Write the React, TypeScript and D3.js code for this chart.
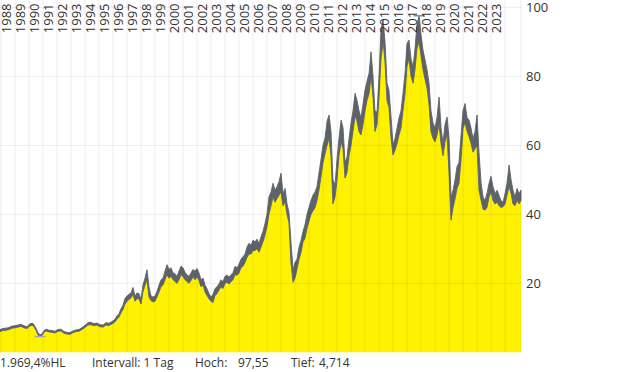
import React from "react";
import * as d3 from "d3";

// decimal years of samples
const years = [
  1987.93, 1988.14, 1988.36, 1988.57, 1988.79, 1989.0, 1989.21, 1989.43, 1989.64, 1989.86,
  1990.07, 1990.29, 1990.5, 1990.64, 1990.79, 1990.93, 1991.07, 1991.21, 1991.43, 1991.64,
  1991.86, 1992.07, 1992.29, 1992.5, 1992.71, 1992.93, 1993.14, 1993.36, 1993.57, 1993.79,
  1994.0, 1994.21, 1994.43, 1994.64, 1994.86, 1995.07, 1995.29, 1995.5, 1995.71, 1995.93,
  1996.14, 1996.29, 1996.43, 1996.57, 1996.71, 1996.86, 1997.0, 1997.14, 1997.29, 1997.43,
  1997.57, 1997.71, 1997.86, 1998.0, 1998.14, 1998.29, 1998.43, 1998.57, 1998.71, 1998.86,
  1999.0, 1999.14, 1999.29, 1999.43, 1999.57, 1999.71, 1999.86, 2000.0, 2000.14, 2000.29,
  2000.43, 2000.57, 2000.71, 2000.86, 2001.0, 2001.14, 2001.29, 2001.43, 2001.57, 2001.71,
  2001.86, 2002.0, 2002.14, 2002.29, 2002.43, 2002.57, 2002.71, 2002.86, 2003.0, 2003.14,
  2003.29, 2003.43, 2003.57, 2003.71, 2003.86, 2004.0, 2004.14, 2004.29, 2004.43, 2004.57,
  2004.71, 2004.86, 2005.0, 2005.14, 2005.29, 2005.43, 2005.57, 2005.71, 2005.86, 2006.0,
  2006.14, 2006.29, 2006.43, 2006.57, 2006.71, 2006.86, 2007.0, 2007.14, 2007.29, 2007.43,
  2007.57, 2007.71, 2007.86, 2008.0, 2008.14, 2008.29, 2008.43, 2008.57, 2008.71, 2008.86,
  2009.0, 2009.14, 2009.29, 2009.43, 2009.57, 2009.71, 2009.86, 2010.0, 2010.14, 2010.29,
  2010.43, 2010.57, 2010.71, 2010.86, 2011.0, 2011.14, 2011.29, 2011.43, 2011.57, 2011.71,
  2011.86, 2012.0, 2012.14, 2012.29, 2012.43, 2012.57, 2012.71, 2012.86, 2013.0, 2013.14,
  2013.29, 2013.43, 2013.57, 2013.71, 2013.86, 2014.0, 2014.14, 2014.29, 2014.43, 2014.57,
  2014.71, 2014.86, 2015.0, 2015.14, 2015.29, 2015.43, 2015.57, 2015.71, 2015.86, 2016.0,
  2016.14, 2016.29, 2016.43, 2016.57, 2016.71, 2016.86, 2017.0, 2017.14, 2017.29, 2017.43,
  2017.57, 2017.71, 2017.86, 2018.0, 2018.14, 2018.29, 2018.43, 2018.57, 2018.71, 2018.86,
  2019.0, 2019.14, 2019.29, 2019.43, 2019.57, 2019.71, 2019.86, 2020.0, 2020.14, 2020.29,
  2020.43, 2020.57, 2020.71, 2020.86, 2021.0, 2021.14, 2021.29, 2021.43, 2021.57, 2021.71,
  2021.86, 2022.0, 2022.14, 2022.29, 2022.43, 2022.57, 2022.71, 2022.86, 2023.0, 2023.14,
  2023.29, 2023.43, 2023.57, 2023.71, 2023.86, 2024.0, 2024.14, 2024.29, 2024.43, 2024.57,
  2024.71, 2024.86, 2025.0, 2025.14,
];

const highs = [
  6.6, 6.9, 7.0, 7.2, 7.6, 7.7, 7.9, 8.1, 7.7, 7.4,
  8.3, 8.4, 7.0, 5.6, 5.1, 5.3, 6.3, 6.7, 6.4, 6.3,
  6.1, 6.6, 6.7, 6.0, 5.8, 5.7, 6.2, 6.5, 6.6, 7.2,
  7.8, 8.6, 8.7, 8.3, 8.5, 8.0, 7.9, 8.6, 8.4, 8.9,
  9.6, 10.6, 11.2, 12.6, 13.6, 15.6, 16.3, 16.8, 17.2, 18.8,
  16.3, 17.2, 17.0, 15.3, 19.5, 21.5, 23.9, 19.0, 16.4, 16.0,
  16.3, 17.6, 19.5, 21.0, 21.5, 23.5, 25.4, 24.0, 24.5, 23.0,
  22.8, 22.0, 23.5, 25.0, 24.5, 23.2, 22.4, 22.0, 23.0, 24.0,
  23.5, 24.3, 23.0, 21.0, 21.5, 19.5, 18.5, 17.0, 16.0, 16.8,
  18.5, 19.0, 19.8, 21.0, 20.5, 22.0, 22.4, 21.8, 22.5, 23.0,
  24.9, 24.5, 25.5, 27.0, 27.7, 28.5, 30.5, 31.6, 31.0, 32.5,
  32.0, 32.8, 31.5, 33.5, 35.0, 37.4, 40.0, 45.1, 46.5, 49.0,
  47.0, 48.0, 49.5, 51.9, 46.0, 47.5, 43.0, 40.5, 32.0, 24.0,
  26.0, 27.0, 30.5, 32.5, 35.0, 37.0, 40.0, 42.0, 44.0, 45.6,
  46.5, 48.0, 52.0, 56.0, 60.0, 62.0, 67.0, 68.8, 64.0, 50.0,
  48.5, 56.0, 62.0, 67.3, 65.0, 55.0, 56.5, 62.0, 66.4, 70.0,
  75.1, 73.0, 70.0, 68.0, 72.0, 76.0, 78.5, 80.9, 87.1, 80.0,
  70.0, 69.6, 80.0, 93.4, 96.3, 90.0, 78.0, 76.0, 68.0, 60.0,
  62.0, 65.0, 68.0, 70.0, 75.0, 81.0, 89.5, 90.5, 85.0, 82.7,
  88.0, 95.0, 97.55, 92.0, 87.6, 84.7, 81.8, 78.0, 70.0, 66.4,
  65.0, 68.0, 74.0, 65.0, 60.6, 66.0, 68.2, 62.0, 45.0, 47.0,
  50.0, 53.8, 55.0, 63.0, 70.0, 72.1, 68.0, 67.3, 65.0, 62.0,
  64.0, 68.8, 58.0, 49.0, 45.0, 44.0, 46.0, 49.0, 51.0, 48.0,
  46.0, 47.0, 45.5, 44.0, 43.5, 46.0, 49.0, 54.3, 50.0, 47.0,
  45.0, 47.5, 46.0, 47.0,
];

const lows = [
  6.0, 6.3, 6.4, 6.6, 7.0, 7.1, 7.3, 7.5, 7.1, 6.9,
  7.7, 7.8, 6.4, 5.0, 4.714, 4.9, 5.8, 6.2, 5.9, 5.8,
  5.6, 6.1, 6.2, 5.5, 5.3, 5.2, 5.7, 6.0, 6.1, 6.6,
  7.2, 7.9, 8.0, 7.7, 7.9, 7.4, 7.3, 7.9, 7.8, 8.2,
  8.8, 9.6, 10.2, 11.4, 12.4, 14.0, 14.8, 15.3, 15.8, 16.8,
  14.8, 15.5, 15.5, 14.0, 17.5, 19.5, 21.0, 16.0, 15.0, 14.6,
  14.8, 16.0, 17.5, 19.0, 19.5, 21.0, 22.5, 21.5, 22.0, 21.0,
  20.5, 20.0, 21.0, 22.5, 22.0, 21.0, 20.5, 20.0, 20.8, 21.8,
  21.0, 22.0, 20.8, 19.0, 19.5, 17.5, 16.5, 15.5, 14.8, 14.4,
  16.5, 17.0, 18.0, 19.0, 18.5, 20.0, 20.3, 19.8, 20.5, 21.0,
  22.5, 22.3, 23.0, 24.5, 25.0, 26.0, 27.5, 28.5, 28.5, 29.5,
  29.5, 30.0, 29.0, 30.5, 32.0, 34.0, 36.5, 40.0, 42.5, 45.0,
  43.5, 44.5, 45.5, 46.5, 42.5, 43.5, 40.0, 37.5, 26.0, 20.3,
  21.5, 24.0, 27.0, 29.0, 32.0, 33.0, 36.0, 38.0, 40.0, 41.0,
  42.0, 44.0, 47.0, 51.0, 55.0, 57.5, 60.0, 62.0, 57.0, 43.0,
  45.0, 50.0, 57.0, 61.0, 59.0, 50.5, 52.0, 57.0, 60.0, 64.0,
  68.5, 67.0, 64.0, 63.0, 66.0, 70.0, 73.0, 75.0, 80.0, 74.0,
  64.0, 66.0, 74.0, 85.0, 90.0, 84.0, 73.0, 71.0, 62.0, 57.2,
  58.5, 60.5, 63.0, 65.0, 70.0, 75.0, 83.0, 85.0, 80.0, 78.0,
  82.0, 88.0, 90.0, 86.0, 82.0, 79.0, 76.5, 72.0, 64.0, 62.0,
  61.0, 63.0, 66.0, 60.5, 57.0, 61.0, 63.0, 52.0, 38.3, 42.0,
  44.5, 47.5, 49.0, 56.0, 65.0, 66.5, 64.0, 62.5, 60.5, 58.0,
  59.0, 60.0, 47.0, 44.0, 41.5, 41.2, 42.0, 45.0, 46.5, 44.0,
  43.0, 43.5, 42.5, 42.0, 42.2, 43.0, 45.5, 48.0, 46.0, 43.0,
  42.5, 44.0, 43.0, 44.0,
];

const yearLabels = [
  "1988", "1989", "1990", "1991", "1992", "1993", "1994", "1995", "1996", "1997",
  "1998", "1999", "2000", "2001", "2002", "2003", "2004", "2005", "2006", "2007",
  "2008", "2009", "2010", "2011", "2012", "2013", "2014", "2015", "2016", "2017",
  "2018", "2019", "2020", "2021", "2022", "2023",
];
const yearGrid = [
  1988, 1989, 1990, 1991, 1992, 1993, 1994, 1995, 1996, 1997, 1998, 1999, 2000,
  2001, 2002, 2003, 2004, 2005, 2006, 2007, 2008, 2009, 2010, 2011, 2012, 2013,
  2014, 2015, 2016, 2017, 2018, 2019, 2020, 2021, 2022, 2023, 2024,
];
const yTicks = [20, 40, 60, 80, 100];

const footer = [
  { text: "1.969,4%HL", x: 0 },
  { text: "Intervall: 1 Tag", x: 92 },
  { text: "Hoch:", x: 195 },
  { text: "97,55", x: 238 },
  { text: "Tief:", x: 291 },
  { text: "4,714", x: 319 },
];

const YELLOW = "#fff200";
const GREY = "#5d6369";
const FONT = "'Open Sans', 'Noto Sans', sans-serif";

export default function App() {
  const plotLeft = 0;
  const plotRight = 521;
  const x = d3.scaleLinear().domain([1987.93, 2025.14]).range([plotLeft, plotRight]);
  const y = d3.scaleLinear().domain([0, 100]).range([352.3, 7.3]);
  const bottom = y(0);

  const data = years.map((t, i) => ({ t, hi: highs[i], lo: lows[i] }));

  const fillArea = d3
    .area<any>()
    .x((d) => x(d.t))
    .y0(bottom)
    .y1((d) => y(d.lo))
    .curve(d3.curveLinear);
  const bandArea = d3
    .area<any>()
    .x((d) => x(d.t))
    .y0((d) => y(d.lo))
    .y1((d) => y(d.hi))
    .curve(d3.curveLinear);

  const maxI = d3.maxIndex(highs);
  const minI = d3.minIndex(lows);

  return (
    <svg
      width={620}
      height={372}
      style={{ position: "absolute", left: 0, top: 0, background: "#fff" }}
      fontFamily={FONT}
    >
      <path d={fillArea(data) || ""} fill={YELLOW} />
      <path d={bandArea(data) || ""} fill={GREY} stroke={GREY} strokeWidth={0.9} />

      {/* grid */}
      {yearGrid.map((yr) => (
        <line
          key={"v" + yr}
          x1={x(yr)}
          x2={x(yr)}
          y1={0}
          y2={bottom}
          stroke="#000"
          strokeOpacity={0.075}
        />
      ))}
      <line x1={plotRight} x2={plotRight} y1={0} y2={bottom} stroke="#000" strokeOpacity={0.075} />
      {yTicks.map((v) => (
        <line
          key={"h" + v}
          x1={plotLeft}
          x2={plotRight}
          y1={y(v)}
          y2={y(v)}
          stroke="#000"
          strokeOpacity={0.075}
        />
      ))}

      {/* high / low markers */}
      <line
        x1={x(years[maxI]) - 5.5}
        x2={x(years[maxI]) + 5.5}
        y1={y(highs[maxI])}
        y2={y(highs[maxI])}
        stroke="#8a8f94"
        strokeWidth={1.5}
      />
      <line
        x1={x(years[minI]) - 5.5}
        x2={x(years[minI]) + 5.5}
        y1={y(lows[minI]) + 0.5}
        y2={y(lows[minI]) + 0.5}
        stroke="#a3a3c2"
        strokeWidth={1.5}
      />

      {/* year labels */}
      {yearLabels.map((lab) => {
        const yr = +lab;
        const cx = (x(yr) + x(yr + 1)) / 2 + 3.3;
        return (
          <text
            key={lab}
            transform={`translate(${cx},3.5) rotate(-90)`}
            textAnchor="end"
            fontSize={13}
            fill="#333"
          >
            {lab}
          </text>
        );
      })}

      {/* y labels */}
      {yTicks.map((v) => (
        <text key={"yl" + v} x={526} y={y(v)} dy="0.36em" fontSize={13} fill="#333">
          {v}
        </text>
      ))}

      {/* footer */}
      {footer.map((f) => (
        <text key={f.text} x={f.x} y={367} fontSize={12} fill="#333" style={{ whiteSpace: "pre" }}>
          {f.text}
        </text>
      ))}
    </svg>
  );
}
